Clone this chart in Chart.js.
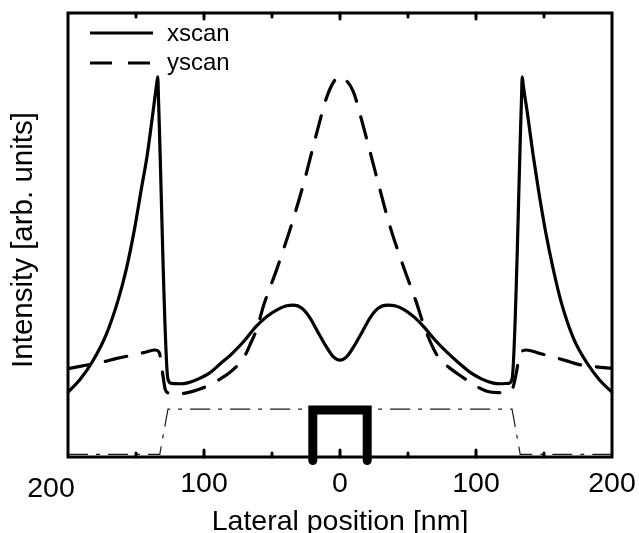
<!DOCTYPE html>
<html>
<head>
<meta charset="utf-8">
<script src="https://cdn.jsdelivr.net/npm/chart.js@4.4.1/dist/chart.umd.min.js"></script>
<style>
  html, body { margin: 0; padding: 0; background: #fff; }
  canvas { display: block; }
</style>
</head>
<body>
<canvas id="scan__grafico" width="639" height="533"></canvas>
<script>
// lateral position [nm] and intensity [arb. units]
const xscanPos = [-200, -191, -182, -172, -163, -157, -151, -146, -142, -138, -134.8, -134, -133.4, -126.5, -124, -118, -112, -104, -96, -88, -79, -70, -62, -54, -46, -40, -34, -28, -22, -16, -10, -5, 0,
                  5, 10, 16, 22, 28, 35, 41, 47, 55, 62, 70, 79, 88, 96, 104, 112, 118, 124, 126.5, 133.4, 134, 134.8, 138, 142, 146, 151, 157, 163, 172, 182, 191, 200]
const xscanVal = [14.6, 17.5, 21.5, 27.5, 35.5, 42.5, 51.5, 60.5, 67.5, 76.5, 84, 85.6, 80, 17.5, 16.6, 16.5, 16.7, 17.6, 18.9, 21, 23.4, 26.3, 29.3, 31.6, 33.2, 34, 34.2, 33.5, 31.3, 28, 24.8, 22.6, 21.8,
                  22.6, 24.8, 28, 31.3, 33.5, 34.2, 34, 33.2, 31.4, 29.2, 26.3, 23.5, 21, 19, 17.6, 16.7, 16.5, 16.6, 17.5, 80, 85.6, 83.6, 77, 68, 60, 51, 42, 34.5, 26.5, 21, 17.3, 14.6]

const yscanPos = [-200, -188, -176, -164, -152, -143, -136, -133, -130.5, -128.5, -126, -120, -112, -104, -96, -88, -82, -76, -71, -66, -61, -56.4, -46.6, -36.8, -27, -17.2, -9.8, -4, 0,
                  4, 9.8, 17.2, 27, 36.8, 46.6, 56.4, 61, 66, 72, 80, 90, 100, 108, 116, 123.5, 127, 130, 132, 137, 146, 156, 166, 176, 188, 200]
const yscanVal = [19.9, 20.6, 21.3, 22.2, 23, 23.6, 24.1, 23.6, 19, 15.2, 14.4, 14.2, 14.5, 15.2, 16.2, 17.6, 18.8, 20.4, 22.2, 25.4, 29, 33.9, 42.2, 51.2, 61.3, 72.9, 81, 84.8, 85.7,
                  85, 82.3, 74.4, 63, 51.9, 42.9, 34.6, 30.2, 26.2, 22.6, 20.2, 18, 16, 14.8, 14.5, 14.6, 15.5, 19.5, 23, 24.1, 23.4, 22.6, 21.7, 20.8, 20.3, 20]

// sketch of the aperture (dash-dot) and the tip (thick)
const aperturePos = [-200, -132.5, -126.5, 126.5, 132.5, 200]
const apertureVal = [0.6, 0.6, 10.8, 10.8, 0.6, 0.6]
const tipPos = [-20, -20, 20, 20]
const tipVal = [-0.8, 10.6, 10.6, -0.8]

// axis ticks
const xTickLabels = [-200, -100, 0, 100, 200]
const xMajorTicks = [-100, 0, 100]
const xMinorTicks = [-150, -50, 50, 150]

const seriesNames = ['xscan', 'yscan']

const toPoints = (pos, val) => pos.map((p, i) => ({ x: p, y: val[i] }))

const FONT = '"Liberation Sans", Arial, sans-serif'

const marcoPlugin = {
    id: 'marco',
    afterDatasetsDraw(chart) {
        const ctx = chart.ctx
        const area = chart.chartArea
        const xs = chart.scales.x
        ctx.save()
        ctx.strokeStyle = '#000'
        ctx.fillStyle = '#000'

        // box
        ctx.lineWidth = 3
        ctx.lineJoin = 'miter'
        ctx.setLineDash([])
        ctx.strokeRect(area.left, area.top, area.right - area.left, area.bottom - area.top)

        // inward ticks, top and bottom
        ctx.lineCap = 'round'
        const tick = (v, lenBottom, lenTop) => {
            const px = xs.getPixelForValue(v)
            ctx.beginPath()
            ctx.moveTo(px, area.bottom)
            ctx.lineTo(px, area.bottom - lenBottom)
            ctx.moveTo(px, area.top)
            ctx.lineTo(px, area.top + lenTop)
            ctx.stroke()
        }
        xMajorTicks.forEach(v => tick(v, 7, 6))
        xMinorTicks.forEach(v => tick(v, 4, 4))

        // tick labels (absolute distance from centre)
        ctx.font = '28.5px ' + FONT
        ctx.textAlign = 'center'
        ctx.textBaseline = 'middle'
        xTickLabels.forEach(v => {
            let px = xs.getPixelForValue(v)
            let py = 484
            if (v === -200) { px -= 17; py = 489 }
            ctx.fillText(String(Math.abs(v)), px, py)
        })

        // axis titles
        ctx.textBaseline = 'alphabetic'
        ctx.fillText('Lateral position [nm]', (area.left + area.right) / 2, 530)
        ctx.save()
        ctx.translate(31.5, 240)
        ctx.rotate(-Math.PI / 2)
        ctx.font = '29.5px ' + FONT
        ctx.fillText('Intensity [arb. units]', 0, 0)
        ctx.restore()

        // legend
        ctx.lineWidth = 3
        ctx.lineCap = 'butt'
        ctx.beginPath()
        ctx.moveTo(90, 33)
        ctx.lineTo(153, 33)
        ctx.stroke()
        ctx.setLineDash([22, 16])
        ctx.beginPath()
        ctx.moveTo(90, 63)
        ctx.lineTo(153, 63)
        ctx.stroke()
        ctx.setLineDash([])
        ctx.font = '24px ' + FONT
        ctx.textAlign = 'left'
        ctx.textBaseline = 'middle'
        ctx.fillText(seriesNames[0], 167, 34)
        ctx.fillText(seriesNames[1], 167, 63)
        ctx.restore()
    }
}

var scan__grafico = document.getElementById('scan__grafico').getContext('2d')
var scanChart = new Chart(scan__grafico, {
    type: 'line',
    data: {
        datasets: [{
            label: seriesNames[0],
            data: toPoints(xscanPos, xscanVal),
            borderColor: '#000',
            borderWidth: 3.2,
            borderJoinStyle: 'round',
            cubicInterpolationMode: 'monotone'
        }, {
            label: seriesNames[1],
            data: toPoints(yscanPos, yscanVal),
            borderColor: '#000',
            borderWidth: 3.2,
            borderDash: [22, 16],
            borderCapStyle: 'round',
            borderJoinStyle: 'round',
            cubicInterpolationMode: 'monotone'
        }, {
            label: 'tip',
            data: toPoints(tipPos, tipVal),
            borderColor: '#000',
            borderWidth: 9,
            borderCapStyle: 'round',
            borderJoinStyle: 'miter',
            tension: 0,
            clip: false
        }, {
            label: 'aperture',
            data: toPoints(aperturePos, apertureVal),
            borderColor: '#1a1a1a',
            borderWidth: 1.2,
            borderDash: [20, 8, 4, 8],
            tension: 0,
            clip: false
        }]
    },
    options: {
        responsive: false,
        animation: false,
        layout: { padding: { left: 68, right: 27, top: 13, bottom: 76 } },
        elements: { point: { radius: 0 } },
        scales: {
            x: { type: 'linear', min: -200, max: 200, display: false },
            y: { type: 'linear', min: 0, max: 100, display: false }
        },
        plugins: {
            legend: { display: false },
            tooltip: { enabled: false }
        }
    },
    plugins: [marcoPlugin]
})
</script>
</body>
</html>
